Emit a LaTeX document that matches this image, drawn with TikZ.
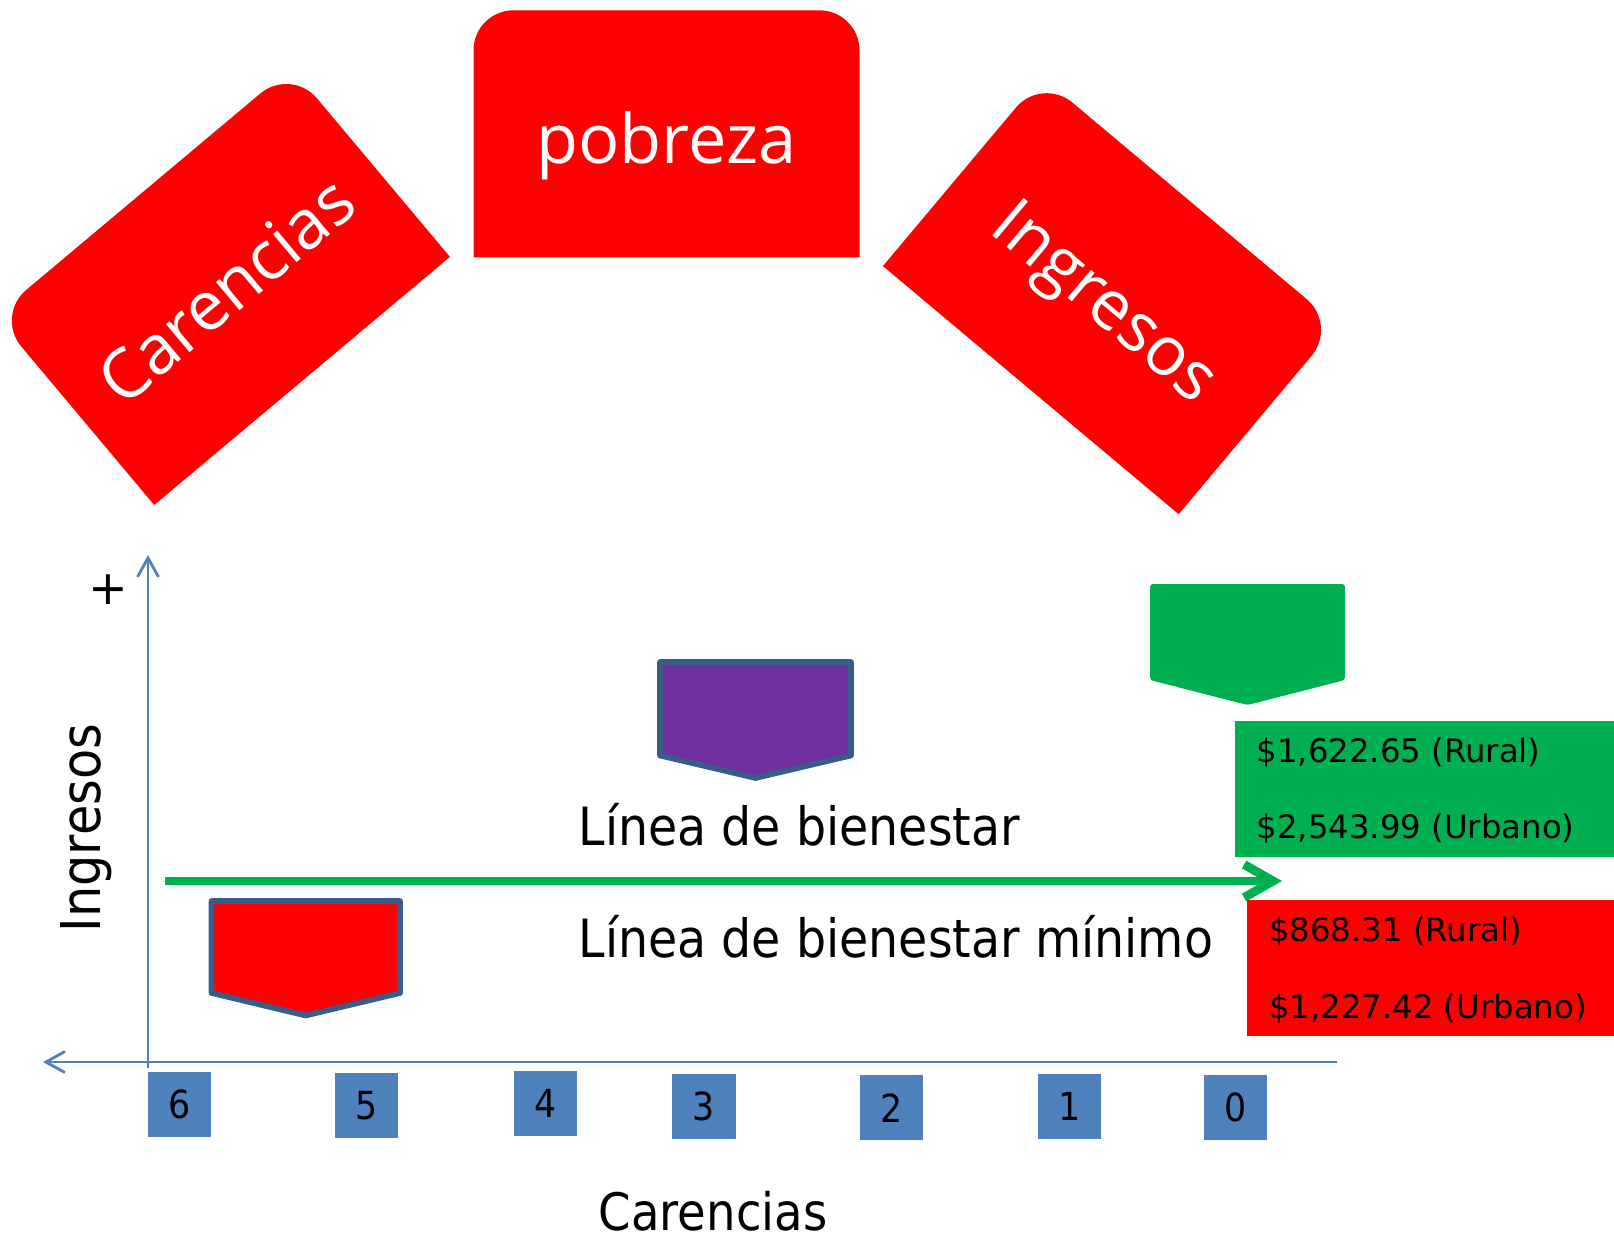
\documentclass[tikz,border=0pt]{standalone}
\usepackage{fontspec}
\setmainfont{DejaVu Sans}
\newfontfamily\tahoma{DejaVu Sans}[FakeStretch=0.9]
\newfontfamily\segoe{Open Sans}
\usetikzlibrary{arrows.meta}

\definecolor{pptred}{HTML}{FF0000}
\definecolor{pptgreen}{HTML}{00B050}
\definecolor{pptpurple}{HTML}{7030A0}
\definecolor{axisblue}{HTML}{4F81BD}
\definecolor{edgeblue}{HTML}{385D8A}

\tikzset{
	fanbox/.style={fill=pptred},
	fantext/.style={text=white, anchor=base, inner sep=0pt, font=\segoe\fontsize{19.5pt}{23pt}\selectfont},
	axis/.style={draw=axisblue, line width=0.8pt, -{Straight Barb[length=1.9mm,width=2.1mm]}},
	welfare/.style={draw=pptgreen, line width=2.5pt, -{Straight Barb[length=2.9mm,width=3.3mm]}},
	tick/.style={fill=axisblue, minimum width=0.63cm, minimum height=0.645cm, inner sep=0pt, font=\tahoma\fontsize{11pt}{13pt}\selectfont},
	linelabel/.style={anchor=base west, inner sep=0pt, font=\tahoma\fontsize{15pt}{18pt}\selectfont},
	value/.style={anchor=base west, inner sep=0pt, font=\fontsize{9.2pt}{11pt}\selectfont},
	chevron/.style={draw=edgeblue, line width=1.6pt, line join=round},
}

\begin{document}
\begin{tikzpicture}[x=0.01cm, y=-0.01cm]
	\useasboundingbox (0,0) rectangle (1614,1238);
	%\draw[help lines] (0,0) grid[step=100] (1614,1238);

	% the three boxes of the fan
	\begin{scope}[shift={(222.7,286.3)}, rotate=40, transform shape]
		\fill[fanbox] (-193,123.5) [rounded corners=4mm] -- (-193,-123.5) -- (193,-123.5) [sharp corners] -- (193,123.5) -- cycle;
		\node[fantext] (carencias) at (0,29.5) {Carencias};
	\end{scope}
	\begin{scope}[shift={(666.5,133.8)}]
		\fill[fanbox] (-193,123.5) [rounded corners=4mm] -- (-193,-123.5) -- (193,-123.5) [sharp corners] -- (193,123.5) -- cycle;
		\node[fantext] (pobreza) at (0,29.5) {pobreza};
	\end{scope}
	\begin{scope}[shift={(1110.2,295.5)}, rotate=-40, transform shape]
		\fill[fanbox] (-193,123.5) [rounded corners=4mm] -- (-193,-123.5) -- (193,-123.5) [sharp corners] -- (193,123.5) -- cycle;
		\node[fantext] (ingresos) at (0,29.5) {Ingresos};
	\end{scope}

	% axes
	\coordinate (yfoot) at (148,1068);
	\coordinate (ytop) at (148,555);
	\coordinate (xright) at (1337,1062);
	\coordinate (xleft) at (43,1062);
	\draw[axis] (yfoot) -- (ytop);
	\draw[axis] (xright) -- (xleft);
	\node[font=\fontsize{13.5pt}{16pt}\selectfont, inner sep=0pt] (plus) at (108,589.5) {+};
	\node[rotate=90, anchor=base, inner sep=0pt, font=\tahoma\fontsize{15.6pt}{18pt}\selectfont] (ylabel) at (100.4,828) {Ingresos};
	\node[anchor=base, inner sep=0pt, font=\tahoma\fontsize{14.7pt}{18pt}\selectfont] (xlabel) at (713,1230) {Carencias};

	% number of carencias
	\node[tick] (t6) at (179.3,1104.3) {6};
	\node[tick] (t5) at (366.3,1105.3) {5};
	\node[tick] (t4) at (545.2,1103.7) {4};
	\node[tick] (t3) at (704,1106.7) {3};
	\node[tick] (t2) at (891.4,1107.7) {2};
	\node[tick] (t1) at (1069.7,1106.7) {1};
	\node[tick] (t0) at (1235.5,1107.7) {0};

	% markers
	\filldraw[chevron, fill=pptred] (211.5,901) -- (400,901) -- (400,993) -- (305.7,1015.5) -- (211.5,993) -- cycle;
	\filldraw[chevron, fill=pptpurple] (660,662) -- (851,662) -- (851,755.5) -- (755.5,778) -- (660,755.5) -- cycle;
	\fill[pptgreen, rounded corners=0.3mm] (1150,584) -- (1345,584) -- (1345,680) -- (1247.5,705) -- (1150,680) -- cycle;

	% welfare line
	\coordinate (gstart) at (165,881);
	\coordinate (gend) at (1282,881);
	\draw[welfare] (gstart) -- (gend);
	\node[linelabel] (lb) at (578,845) {Línea de bienestar};
	\node[linelabel] (lbm) at (578,957) {Línea de bienestar mínimo};

	% values
	\fill[pptgreen] (1235,721) rectangle (1614,856.5);
	\fill[pptred] (1247.3,900) rectangle (1614,1035.7);
	\node[value] (lbrural) at (1256,762.7) {\$1,622.65 (Rural)};
	\node[value] (lburbano) at (1256,838.3) {\$2,543.99 (Urbano)};
	\node[value] (lbmrural) at (1268.3,941.7) {\$868.31 (Rural)};
	\node[value] (lbmurbano) at (1268.3,1018.3) {\$1,227.42 (Urbano)};
\end{tikzpicture}
\end{document}
